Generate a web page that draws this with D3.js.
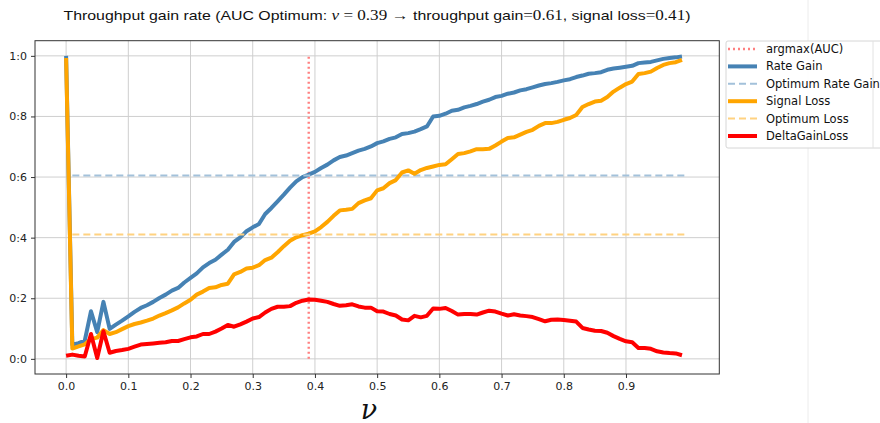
<!DOCTYPE html>
<html>
<head>
<meta charset="utf-8">
<script src="https://cdn.jsdelivr.net/npm/d3@7"></script>
<style>
  body { margin: 0; background: #fff; }
  svg { display: block; }
</style>
</head>
<body>
<div id="chart"></div>
<script>
// ---- data ----
var nu = d3.range(100).map(function(i) { return +(i / 100).toFixed(2); });

var rateGain = [1.0, 0.047, 0.052, 0.06, 0.157, 0.088, 0.188, 0.099, 0.113, 0.126,
  0.14, 0.155, 0.168, 0.177, 0.188, 0.201, 0.212, 0.225, 0.234, 0.252,
  0.267, 0.282, 0.302, 0.316, 0.327, 0.344, 0.36, 0.386, 0.401, 0.421,
  0.434, 0.445, 0.478, 0.498, 0.52, 0.542, 0.565, 0.586, 0.6, 0.608,
  0.617, 0.63, 0.641, 0.655, 0.666, 0.671, 0.679, 0.687, 0.693, 0.701,
  0.712, 0.718, 0.726, 0.731, 0.742, 0.745, 0.75, 0.758, 0.767, 0.8,
  0.802, 0.809, 0.819, 0.822, 0.83, 0.835, 0.841, 0.849, 0.855, 0.864,
  0.868, 0.875, 0.879, 0.886, 0.89, 0.896, 0.902, 0.907, 0.91, 0.914,
  0.919, 0.923, 0.93, 0.935, 0.941, 0.943, 0.946, 0.954, 0.958, 0.961,
  0.964, 0.967, 0.976, 0.978, 0.98, 0.985, 0.99, 0.993, 0.995, 0.998];

var signalLoss = [0.993, 0.034, 0.041, 0.048, 0.065, 0.07, 0.095, 0.082, 0.088, 0.098,
  0.108, 0.115, 0.12, 0.126, 0.133, 0.143, 0.151, 0.16, 0.17, 0.183,
  0.195, 0.212, 0.222, 0.234, 0.236, 0.244, 0.248, 0.279, 0.287, 0.298,
  0.301, 0.309, 0.326, 0.334, 0.352, 0.372, 0.39, 0.401, 0.408, 0.413,
  0.421, 0.435, 0.452, 0.472, 0.49, 0.492, 0.495, 0.514, 0.523, 0.53,
  0.556, 0.563, 0.58, 0.59, 0.615, 0.622, 0.611, 0.623, 0.63, 0.635,
  0.64, 0.642, 0.659, 0.676, 0.679, 0.685, 0.692, 0.692, 0.693, 0.704,
  0.717, 0.729, 0.731, 0.74, 0.749, 0.756, 0.769, 0.778, 0.778, 0.782,
  0.789, 0.795, 0.805, 0.831, 0.841, 0.849, 0.852, 0.864, 0.882, 0.895,
  0.907, 0.915, 0.94, 0.943, 0.948, 0.96, 0.97, 0.976, 0.979, 0.987];

var deltaGainLoss = [0.01, 0.014, 0.01, 0.008, 0.082, 0.003, 0.091, 0.02, 0.026, 0.029,
  0.033, 0.04, 0.047, 0.049, 0.051, 0.053, 0.055, 0.059, 0.059, 0.065,
  0.071, 0.074, 0.082, 0.082, 0.09, 0.1, 0.112, 0.106, 0.114, 0.123,
  0.133, 0.138, 0.153, 0.165, 0.172, 0.172, 0.174, 0.185, 0.192, 0.196,
  0.195, 0.192, 0.188, 0.181, 0.175, 0.177, 0.18, 0.173, 0.169, 0.169,
  0.157, 0.156, 0.148, 0.143, 0.13, 0.127, 0.142, 0.137, 0.142, 0.166,
  0.165, 0.168, 0.158, 0.146, 0.148, 0.148, 0.146, 0.153, 0.159, 0.156,
  0.149, 0.143, 0.147, 0.143, 0.141, 0.138, 0.131, 0.124, 0.129, 0.13,
  0.128, 0.126, 0.123, 0.102, 0.097, 0.093, 0.092, 0.086, 0.075, 0.066,
  0.058, 0.055, 0.036, 0.036, 0.033, 0.025, 0.021, 0.019, 0.018, 0.012];

var optNu = 0.39, optGain = 0.605, optLoss = 0.41;
var optSpan = [0.01, 1.0];          // x extent of the two optimum lines
var xTicks = [0, 0.1, 0.2, 0.3, 0.4, 0.5, 0.6, 0.7, 0.8, 0.9];
var yTicks = [0, 0.2, 0.4, 0.6, 0.8, 1.0];

// ---- layout ----
var W = 880, H = 423;
var plot = {left: 35, right: 719.3, top: 40.7, bottom: 374};

var svg = d3.select("#chart").append("svg")
    .attr("width", W)
    .attr("height", H);

// faint stray line on the right side of the picture
svg.append("line")
    .attr("x1", 808).attr("x2", 808).attr("y1", 0).attr("y2", H)
    .attr("stroke", "#ececec").attr("stroke-width", 1);

var x = d3.scaleLinear().domain([-0.05, 1.05]).range([plot.left, plot.right]);
var y = d3.scaleLinear().domain([-0.05, 1.05]).range([plot.bottom, plot.top]);

// grid
var grid = svg.append("g").attr("class", "grid");
grid.selectAll(".gx").data(xTicks).enter().append("line")
    .attr("x1", function(d) { return x(d); }).attr("x2", function(d) { return x(d); })
    .attr("y1", plot.top).attr("y2", plot.bottom)
    .attr("stroke", "#cfcfcf").attr("stroke-width", 1);
grid.selectAll(".gy").data(yTicks).enter().append("line")
    .attr("x1", plot.left).attr("x2", plot.right)
    .attr("y1", function(d) { return y(d); }).attr("y2", function(d) { return y(d); })
    .attr("stroke", "#cfcfcf").attr("stroke-width", 1);

// axes
var tickFont = "'DejaVu Sans', sans-serif";
var xAxis = svg.append("g")
    .attr("transform", "translate(0," + plot.bottom + ")")
    .call(d3.axisBottom(x).tickValues(xTicks).tickSize(4).tickPadding(4)
      .tickFormat(d3.format(".1f")));
var yAxis = svg.append("g")
    .attr("transform", "translate(" + plot.left + ",0)")
    .call(d3.axisLeft(y).tickValues(yTicks).tickSize(4).tickPadding(4)
      .tickFormat(function(d) { return d3.format(".1f")(d).replace(".", ":"); }));
[xAxis, yAxis].forEach(function(a) {
  a.select(".domain").remove();
  a.selectAll("line").attr("stroke", "#333");
  a.selectAll("text").attr("fill", "#222")
    .style("font-family", tickFont).style("font-size", "11px");
});

// lines
var line = d3.line()
    .x(function(d) { return x(d[0]); })
    .y(function(d) { return y(d[1]); });
function pairs(vals) { return nu.map(function(v, i) { return [v, vals[i]]; }); }

var series = [
  {name: "argmax(AUC)", pts: [[optNu, 0], [optNu, 1]], color: "#ff8080", width: 2.4, dash: "2,3"},
  {name: "Rate Gain", pts: pairs(rateGain), color: "#4682b4", width: 4},
  {name: "Optimum Rate Gain", pts: [[optSpan[0], optGain], [optSpan[1], optGain]], color: "#a3c1da", width: 2, dash: "7,4"},
  {name: "Signal Loss", pts: pairs(signalLoss), color: "#ffa500", width: 4},
  {name: "Optimum Loss", pts: [[optSpan[0], optLoss], [optSpan[1], optLoss]], color: "#ffd280", width: 2, dash: "7,4"},
  {name: "DeltaGainLoss", pts: pairs(deltaGainLoss), color: "#ff0000", width: 4}
];

svg.append("g").selectAll("path").data(series).enter().append("path")
    .attr("d", function(d) { return line(d.pts); })
    .attr("fill", "none")
    .attr("stroke", function(d) { return d.color; })
    .attr("stroke-width", function(d) { return d.width; })
    .attr("stroke-dasharray", function(d) { return d.dash || null; })
    .attr("stroke-linejoin", "round")
    .attr("stroke-linecap", "butt");

// frame
svg.append("rect")
    .attr("x", plot.left).attr("y", plot.top)
    .attr("width", plot.right - plot.left).attr("height", plot.bottom - plot.top)
    .attr("fill", "none").attr("stroke", "#333").attr("stroke-width", 1);

// title
var title = svg.append("text")
    .attr("x", 377).attr("y", 20)
    .attr("text-anchor", "middle")
    .attr("fill", "#111")
    .style("font-family", "'Liberation Sans', sans-serif")
    .style("font-size", "13px");
var serif = "'Liberation Serif', serif";
[
  ["Throughput gain rate (AUC Optimum: ", null],
  ["\u03bd", "italic"],
  [" = 0.39 \u2192", "math"],
  [" throughput gain", null],
  ["=0.61", "math"],
  [", signal loss", null],
  ["=0.41", "math"],
  [")", null]
].forEach(function(p) {
  var t = title.append("tspan").text(p[0]);
  if (p[1]) t.style("font-family", serif).style("font-size", "14px");
  if (p[1] === "italic") t.style("font-style", "italic");
});
title.attr("textLength", 627).attr("lengthAdjust", "spacingAndGlyphs");

// x label
svg.append("text")
    .attr("x", 369).attr("y", 419)
    .attr("text-anchor", "middle")
    .style("font-family", "'DejaVu Serif', serif")
    .style("font-style", "italic")
    .style("font-size", "27px")
    .attr("fill", "#111")
    .text("\u03bd");

// legend
var leg = svg.append("g").attr("transform", "translate(726,41)");
leg.append("rect")
    .attr("x", 0).attr("y", 0).attr("width", 170).attr("height", 107)
    .attr("rx", 2)
    .attr("fill", "#fff").attr("fill-opacity", 0.85)
    .attr("stroke", "#d6d6d6").attr("stroke-width", 1);
leg.append("line")
    .attr("x1", 147).attr("x2", 147).attr("y1", 0).attr("y2", 107)
    .attr("stroke", "#e2e2e2").attr("stroke-width", 1);
var items = leg.selectAll(".item").data(series).enter().append("g")
    .attr("transform", function(d, i) { return "translate(0," + (8 + i * 17.4) + ")"; });
items.append("line")
    .attr("x1", 2).attr("x2", 31).attr("y1", 0).attr("y2", 0)
    .attr("stroke", function(d) { return d.color; })
    .attr("stroke-width", function(d) { return d.width; })
    .attr("stroke-dasharray", function(d) { return d.dash || null; });
items.append("text")
    .attr("x", 40).attr("y", 0).attr("dy", "0.35em")
    .style("font-family", tickFont).style("font-size", "11.5px")
    .attr("fill", "#111")
    .text(function(d) { return d.name; });
</script>
</body>
</html>
